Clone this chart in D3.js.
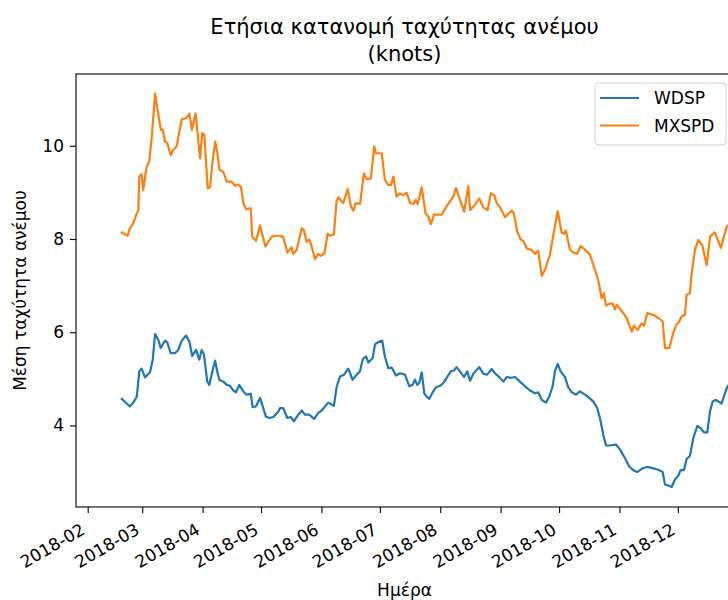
<!DOCTYPE html>
<html>
<head>
<meta charset="utf-8">
<script src="https://cdn.jsdelivr.net/npm/d3@7"></script>
<style>
  body { margin: 0; background: #fff; }
  svg { font-family: "DejaVu Sans", sans-serif; }
</style>
</head>
<body>
<div id="chart"></div>
<script>
// series: [day of year 2018, knots]
const wdsp = [
  [49.5,4.57],[52.0,4.47],[53.7,4.41],[55.4,4.49],[57.2,4.62],[58.5,5.16],[59.7,5.22],[61.4,5.03],
  [64.0,5.14],[65.4,5.41],[66.6,5.96],[68.2,5.84],[69.5,5.66],[71.7,5.82],[72.9,5.78],[74.6,5.55],
  [76.8,5.55],[78.5,5.62],[80.3,5.82],[82.5,5.93],[84.2,5.80],[85.7,5.49],[87.6,5.62],[89.3,5.41],
  [90.5,5.62],[91.7,5.52],[93.4,4.94],[94.4,4.87],[96.2,5.19],[97.4,5.39],[98.5,5.16],[99.6,4.98],
  [101.6,4.94],[103.4,4.87],[105.1,4.85],[106.4,4.77],[108.1,4.71],[109.8,4.87],[111.9,4.73],[113.6,4.66],
  [115.7,4.68],[116.7,4.39],[118.4,4.41],[120.5,4.59],[123.5,4.19],[125.2,4.16],[127.3,4.18],[129.9,4.30],
  [130.7,4.37],[132.4,4.37],[134.5,4.16],[136.2,4.18],[137.9,4.09],[140.1,4.23],[141.9,4.32],[143.6,4.23],
  [145.8,4.23],[148.3,4.14],[150.4,4.27],[152.1,4.32],[155.5,4.49],[158.4,4.42],[159.8,4.82],[161.5,5.05],
  [163.6,5.09],[165.8,5.22],[168.0,4.98],[170.1,5.09],[171.8,5.16],[173.2,5.42],[174.9,5.48],[176.1,5.35],
  [178.3,5.44],[179.5,5.74],[181.2,5.79],[183.2,5.82],[184.6,5.48],[186.3,5.23],[188.1,5.24],[190.3,5.07],
  [192.3,5.12],[194.9,5.09],[197.1,4.84],[198.8,4.87],[200.0,4.98],[201.2,4.87],[202.2,4.91],[203.5,5.14],
  [204.8,4.69],[206.0,4.62],[207.4,4.57],[209.1,4.71],[210.8,4.82],[212.9,4.85],[214.6,4.91],[216.3,5.02],
  [218.4,5.16],[220.0,5.18],[221.4,5.25],[223.1,5.16],[225.2,5.04],[226.9,5.16],[228.3,4.96],[230.0,5.11],
  [233.0,5.25],[235.1,5.11],[237.1,5.09],[239.4,5.21],[241.1,5.12],[243.7,5.02],[245.4,4.94],[247.2,5.04],
  [249.2,5.02],[251.4,5.04],[253.9,4.94],[256.5,4.84],[259.1,4.75],[261.6,4.69],[263.3,4.71],[265.1,4.55],
  [267.3,4.49],[269.0,4.62],[270.7,4.84],[271.9,5.16],[273.3,5.32],[274.8,5.16],[277.0,5.04],[278.7,4.82],
  [280.5,4.71],[282.7,4.66],[284.7,4.73],[287.3,4.66],[289.5,4.59],[291.6,4.51],[293.6,4.37],[295.0,4.16],
  [296.7,3.80],[298.1,3.57],[300.1,3.57],[303.2,3.59],[305.3,3.48],[307.8,3.30],[310.0,3.12],[312.1,3.04],
  [314.1,3.00],[316.4,3.07],[319.0,3.11],[321.5,3.09],[324.9,3.05],[327.2,3.00],[328.4,2.73],[330.1,2.71],
  [331.8,2.68],[333.5,2.84],[335.2,2.92],[336.4,3.04],[338.1,3.04],[339.5,3.28],[341.2,3.35],[342.9,3.73],
  [345.0,3.99],[346.7,3.94],[348.4,3.85],[350.1,3.85],[351.5,4.30],[352.8,4.51],[354.5,4.55],[357.4,4.47],
  [360.3,4.82],[361.7,4.90]
];

const mxspd = [
  [49.5,8.14],[52.5,8.07],[53.7,8.23],[55.4,8.34],[57.2,8.55],[58.0,8.62],[58.5,9.34],[59.7,9.39],
  [60.5,9.05],[62.3,9.55],[63.6,9.66],[64.9,10.19],[66.6,11.12],[68.2,10.69],[69.6,10.34],[70.5,10.35],
  [71.7,10.09],[72.9,10.06],[74.6,9.80],[75.9,9.91],[77.7,9.99],[78.9,10.27],[80.3,10.57],[82.5,10.59],
  [84.2,10.69],[85.5,10.34],[87.4,10.69],[89.7,9.73],[90.8,10.27],[91.9,10.23],[93.6,9.09],[94.8,9.11],
  [96.2,9.69],[97.5,10.09],[98.5,9.87],[99.6,9.49],[101.6,9.44],[103.4,9.23],[105.9,9.23],[107.6,9.14],
  [109.0,9.17],[110.7,9.12],[111.9,8.77],[113.3,8.64],[115.7,8.66],[116.5,8.05],[118.4,7.96],[120.5,8.29],
  [123.2,7.84],[124.7,7.94],[126.5,8.05],[129.0,8.07],[130.7,8.07],[132.4,8.04],[134.5,7.71],[136.7,7.82],
  [137.5,7.68],[139.3,7.77],[141.9,8.23],[143.0,8.19],[144.4,7.94],[145.8,7.99],[147.0,7.84],[148.7,7.57],
  [150.4,7.68],[151.6,7.64],[153.5,7.69],[155.2,8.11],[156.4,8.07],[158.4,8.10],[159.8,8.82],[160.7,8.89],
  [163.2,8.77],[165.5,9.07],[167.2,8.69],[168.4,8.61],[169.7,8.77],[171.8,8.75],[173.8,9.41],[175.2,9.28],
  [177.4,9.30],[179.1,9.99],[180.0,9.84],[182.9,9.84],[184.6,9.27],[186.3,9.16],[187.7,9.16],[188.9,9.34],
  [190.6,8.91],[192.3,8.98],[193.7,8.94],[195.8,8.99],[197.5,8.77],[199.2,8.75],[200.4,8.84],[201.4,8.75],
  [203.5,9.11],[205.5,8.54],[206.9,8.48],[208.2,8.32],[209.8,8.53],[212.0,8.52],[213.7,8.52],[215.4,8.64],
  [217.5,8.78],[219.7,8.91],[221.1,9.09],[223.1,8.84],[225.3,8.59],[227.4,9.14],[228.3,8.62],[230.8,8.73],
  [233.0,8.87],[235.1,8.68],[237.3,8.62],[239.0,8.98],[240.7,8.94],[242.0,8.77],[243.7,8.68],[246.2,8.47],
  [249.7,8.61],[250.8,8.55],[252.5,8.16],[254.3,7.99],[255.6,7.96],[257.4,7.80],[259.9,7.77],[261.6,7.68],
  [263.3,7.75],[265.1,7.21],[266.8,7.34],[269.3,7.66],[271.4,8.16],[273.3,8.60],[275.3,8.14],[276.5,8.11],
  [277.5,8.18],[279.6,7.77],[281.3,7.71],[283.3,7.68],[285.1,7.85],[287.3,7.77],[289.9,7.66],[292.4,7.34],
  [294.1,7.12],[295.9,6.73],[297.0,6.84],[298.1,6.57],[299.8,6.61],[301.5,6.62],[302.7,6.49],[303.6,6.59],
  [306.1,6.46],[308.7,6.31],[310.0,6.16],[311.3,6.01],[312.4,6.14],[314.3,6.05],[316.4,6.19],[317.6,6.14],
  [319.3,6.41],[322.4,6.37],[324.9,6.31],[327.2,6.23],[328.4,5.66],[330.6,5.66],[332.6,5.98],[334.0,6.14],
  [335.7,6.23],[336.9,6.34],[338.6,6.37],[339.5,6.80],[341.2,6.84],[342.1,7.27],[343.8,7.77],[345.5,7.98],
  [347.5,7.87],[349.8,7.44],[351.5,8.05],[354.0,8.14],[357.1,7.81],[360.0,8.26],[361.7,8.32]
];

const seriesNames = ["WDSP", "MXSPD"];
const seriesColors = ["#1f77b4", "#ff7f0e"];
const yTicks = [4, 6, 8, 10];
const tickMonths = ["2018-02","2018-03","2018-04","2018-05","2018-06","2018-07","2018-08","2018-09","2018-10","2018-11","2018-12"];

const titleLines = ["Ετήσια κατανομή ταχύτητας ανέμου", "(knots)"];
const xLabel = "Ημέρα";
const yLabel = "Μέση ταχύτητα ανέμου";

const width = 728, height = 600;
const margin = {top: 74, right: -5, bottom: 93, left: 76};
const innerW = width - margin.left - margin.right;
const innerH = height - margin.top - margin.bottom;

const day0 = new Date(2018, 0, 1);
const toDate = d => new Date(day0.getTime() + (d - 1) * 864e5);
const parseMonth = d3.timeParse("%Y-%m");

const svg = d3.select("#chart").append("svg")
  .attr("width", width)
  .attr("height", height);

const x = d3.scaleTime()
  .domain([toDate(26), toDate(363.3)])
  .range([0, innerW]);

const y = d3.scaleLinear()
  .domain([2.25, 11.54])
  .range([innerH, 0]);

const g = svg.append("g")
  .attr("transform", `translate(${margin.left},${margin.top})`);

g.append("clipPath").attr("id", "clip")
  .append("rect").attr("width", innerW).attr("height", innerH);

// lines
const line = d3.line()
  .x(d => x(toDate(d[0])))
  .y(d => y(d[1]));

[wdsp, mxspd].forEach((s, i) => {
  g.append("path")
    .datum(s)
    .attr("clip-path", "url(#clip)")
    .attr("fill", "none")
    .attr("stroke", seriesColors[i])
    .attr("stroke-width", 2.2)
    .attr("stroke-linejoin", "round")
    .attr("stroke-linecap", "square")
    .attr("d", line);
});

// axes
const xAxis = d3.axisBottom(x)
  .tickValues(tickMonths.map(parseMonth))
  .tickFormat(d3.timeFormat("%Y-%m"))
  .tickSize(6)
  .tickSizeOuter(0);

const gx = g.append("g")
  .attr("transform", `translate(0,${innerH})`)
  .call(xAxis);

gx.selectAll(".tick text")
  .attr("font-size", 17)
  .attr("font-family", "DejaVu Sans")
  .attr("fill", "#000")
  .attr("text-anchor", "end")
  .attr("y", 0)
  .attr("dy", 0)
  .attr("transform", "translate(-2,26) rotate(-30)");

const yAxis = d3.axisLeft(y)
  .tickValues(yTicks)
  .tickSize(6)
  .tickSizeOuter(0)
  .tickPadding(6);

const gy = g.append("g").call(yAxis);
gy.selectAll(".tick text")
  .attr("font-size", 17)
  .attr("font-family", "DejaVu Sans")
  .attr("fill", "#000");

svg.selectAll(".domain").remove();
svg.selectAll(".tick line").attr("stroke", "#000").attr("stroke-width", 1.1);

// spines
g.append("rect")
  .attr("width", innerW)
  .attr("height", innerH)
  .attr("fill", "none")
  .attr("stroke", "#000")
  .attr("stroke-width", 1.1);

// title
svg.append("text")
  .attr("x", margin.left + innerW / 2)
  .attr("y", 34)
  .attr("text-anchor", "middle")
  .attr("font-size", 21)
  .text(titleLines[0]);
svg.append("text")
  .attr("x", margin.left + innerW / 2)
  .attr("y", 61)
  .attr("text-anchor", "middle")
  .attr("font-size", 21)
  .text(titleLines[1]);

// axis labels
svg.append("text")
  .attr("x", margin.left + innerW / 2)
  .attr("y", 596)
  .attr("text-anchor", "middle")
  .attr("font-size", 17)
  .text(xLabel);

svg.append("text")
  .attr("transform", `translate(26,${margin.top + innerH / 2}) rotate(-90)`)
  .attr("text-anchor", "middle")
  .attr("font-size", 17)
  .text(yLabel);

// legend
const lg = svg.append("g").attr("transform", "translate(595,83)");
lg.append("rect")
  .attr("width", 131).attr("height", 62)
  .attr("rx", 4)
  .attr("fill", "#fff").attr("fill-opacity", 0.8)
  .attr("stroke", "#d0d0d0").attr("stroke-width", 1);

seriesNames.forEach((name, i) => {
  const yy = 15 + i * 27.5;
  lg.append("line")
    .attr("x1", 5).attr("x2", 44)
    .attr("y1", yy).attr("y2", yy)
    .attr("stroke", seriesColors[i])
    .attr("stroke-width", 2.2);
  lg.append("text")
    .attr("x", 59).attr("y", yy + 6)
    .attr("font-size", 17)
    .text(name);
});
</script>
</body>
</html>
